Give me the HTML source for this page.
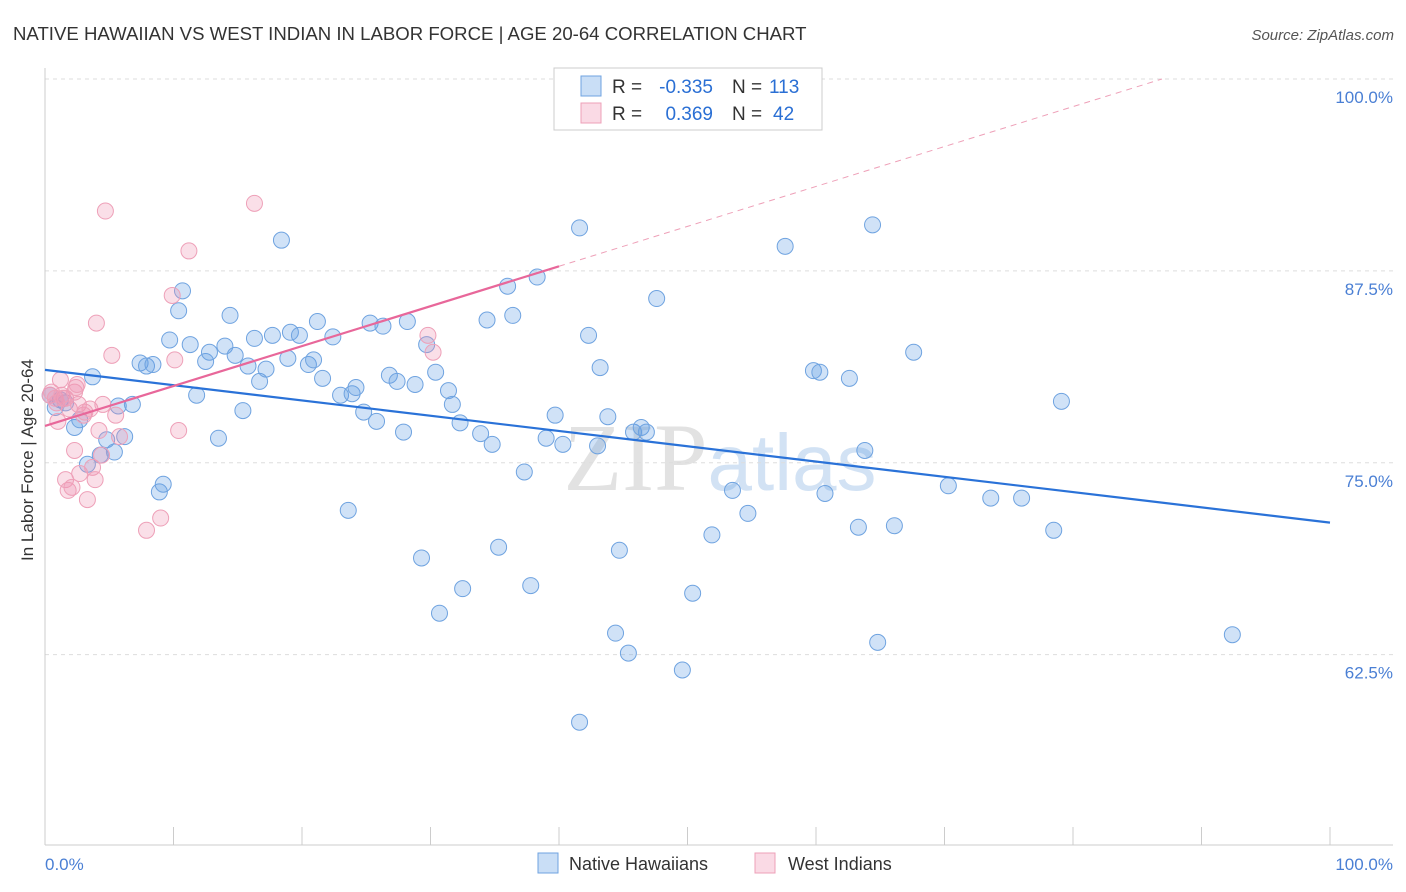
<!DOCTYPE html>
<html><head><meta charset="utf-8">
<style>
body{margin:0;background:#fff;font-family:"Liberation Sans",sans-serif;}
svg{display:block}
</style></head>
<body>
<svg id="chart" width="1406" height="892" xmlns="http://www.w3.org/2000/svg">
<text x="13" y="40" font-size="18.6" fill="#333">NATIVE HAWAIIAN VS WEST INDIAN IN LABOR FORCE | AGE 20-64 CORRELATION CHART</text>
<text x="1394" y="40" font-size="15" fill="#555" font-style="italic" text-anchor="end">Source: ZipAtlas.com</text>
<text x="720" y="490" font-size="96" fill="#e2e2e2" text-anchor="middle" font-family="Liberation Serif,serif">ZIP<tspan fill="#d2e2f4" font-family="Liberation Sans,sans-serif" font-size="80">atlas</tspan></text>
<g id="grid"></g>
<g id="axes"></g>
<g id="pts"></g>
<g id="lines"></g>
<text x="33" y="460" font-size="17" fill="#333" text-anchor="middle" transform="rotate(-90 33 460)">In Labor Force | Age 20-64</text>
<text x="45" y="870" font-size="17" fill="#4a7fd4">0.0%</text>
<text x="1393" y="870" font-size="17" fill="#4a7fd4" text-anchor="end">100.0%</text>
<g font-size="19">
<rect x="554" y="68" width="268" height="62" fill="#fff" stroke="#ccc"/>
<rect x="581" y="76" width="20" height="20" fill="rgba(100,160,230,0.35)" stroke="#6fa3e0"/>
<rect x="581" y="103" width="20" height="20" fill="rgba(240,150,180,0.35)" stroke="#eea0b8"/>
<text x="612" y="93" fill="#333">R =</text>
<text x="713" y="93" fill="#2a6fd4" text-anchor="end">-0.335</text>
<text x="732" y="93" fill="#333">N =</text>
<text x="769" y="93" fill="#2a6fd4">113</text>
<text x="612" y="120" fill="#333">R =</text>
<text x="713" y="120" fill="#2a6fd4" text-anchor="end">0.369</text>
<text x="732" y="120" fill="#333">N =</text>
<text x="773" y="120" fill="#2a6fd4">42</text>
</g>
<g>
<rect x="538" y="853" width="20" height="20" fill="rgba(100,160,230,0.35)" stroke="#6fa3e0"/>
<text x="569" y="870" font-size="18" fill="#333">Native Hawaiians</text>
<rect x="755" y="853" width="20" height="20" fill="rgba(240,150,180,0.35)" stroke="#eea0b8"/>
<text x="788" y="870" font-size="18" fill="#333">West Indians</text>
</g>
</svg>
<script>
const yTicks=[100,87.5,75,62.5];
const yTickLabels=["100.0%","87.5%","75.0%","62.5%"];
const xTicks=[0,10,20,30,40,50,60,70,80,90,100];
const blueX=[0.4,0.8,1.2,1.6,2.3,2.7,3.3,3.7,4.3,4.8,5.4,5.7,6.2,6.8,7.4,7.9,8.4,8.9,9.2,9.7,10.4,10.7,11.3,11.8,12.5,12.8,13.5,14.0,14.4,14.8,15.4,15.8,16.3,16.7,17.2,17.7,18.4,18.9,19.1,19.8,20.5,20.9,21.2,21.6,22.4,23.0,23.6,23.9,24.2,24.8,25.3,25.8,26.3,26.8,27.4,27.9,28.2,28.8,29.3,29.7,30.4,30.7,31.4,31.7,32.3,32.5,33.9,34.4,34.8,35.3,36.0,36.4,37.3,37.8,38.3,39.0,39.7,40.3,41.6,41.6,42.3,43.0,43.2,43.8,44.4,44.7,45.4,45.8,46.4,46.8,47.6,49.6,50.4,51.9,53.5,54.7,57.6,59.8,60.3,60.7,62.6,63.3,63.8,64.4,64.8,66.1,67.6,70.3,73.6,76.0,78.5,79.1,92.4];
const blueY=[79.4,78.6,79.1,78.9,77.3,77.8,74.9,80.6,75.5,76.5,75.7,78.7,76.7,78.8,81.5,81.3,81.4,73.1,73.6,83.0,84.9,86.2,82.7,79.4,81.6,82.2,76.6,82.6,84.6,82.0,78.4,81.3,83.1,80.3,81.1,83.3,89.5,81.8,83.5,83.3,81.4,81.7,84.2,80.5,83.2,79.4,71.9,79.5,79.9,78.3,84.1,77.7,83.9,80.7,80.3,77.0,84.2,80.1,68.8,82.7,80.9,65.2,79.7,78.8,77.6,66.8,76.9,84.3,76.2,69.5,86.5,84.6,74.4,67.0,87.1,76.6,78.1,76.2,90.3,58.1,83.3,76.1,81.2,78.0,63.9,69.3,62.6,77.0,77.3,77.0,85.7,61.5,66.5,70.3,73.2,71.7,89.1,81.0,80.9,73.0,80.5,70.8,75.8,90.5,63.3,70.9,82.2,73.5,72.7,72.7,70.6,79.0,63.8];
const pinkX=[0.4,0.5,0.8,0.9,1.0,1.2,1.3,1.4,1.6,1.6,1.8,1.9,2.1,2.3,2.3,2.4,2.5,2.6,2.7,3.0,3.1,3.3,3.5,3.7,3.9,4.0,4.2,4.4,4.5,4.7,5.2,5.5,5.8,7.9,9.0,9.9,10.1,10.4,11.2,16.3,29.8,30.2];
const pinkY=[79.4,79.6,79.2,78.9,77.7,80.4,79.4,79.2,79.2,73.9,73.2,78.5,73.4,75.8,79.6,79.9,80.1,78.8,74.3,78.1,78.3,72.6,78.5,74.7,73.9,84.1,77.1,75.5,78.8,91.4,82.0,78.1,76.7,70.6,71.4,85.9,81.7,77.1,88.8,91.9,83.3,82.2];
const blueTrend=[81.05,-0.0995];
const pinkTrend=[77.4,0.26];
const X0=45,X1=1330,Ytop=79,Ybot=845,Vtop=100,Vbot=50.1;
const sx=v=>X0+(X1-X0)*v/100;
const sy=v=>Ytop+(Vtop-v)*(Ybot-Ytop)/(Vtop-Vbot);
const NS="http://www.w3.org/2000/svg";
function mk(tag,attrs,parent){const e=document.createElementNS(NS,tag);for(const k in attrs)e.setAttribute(k,attrs[k]);document.getElementById(parent).appendChild(e);return e;}
yTicks.forEach((t,i)=>{
 const l=mk('line',{x1:X0,x2:1393,y1:sy(t),y2:sy(t),stroke:'#ddd','stroke-dasharray':'4,4'},'grid');
 
 
 const tx=mk('text',{x:1393,y:sy(t)+24,'font-size':17,fill:'#4a7fd4','text-anchor':'end'},'grid');
 tx.textContent=yTickLabels[i];
 
 
});
const ya=mk('line',{x1:X0,x2:X0,y1:68,y2:Ybot,stroke:'#ccc'},'axes');


const xa=mk('line',{x1:X0,x2:1393,y1:Ybot,y2:Ybot,stroke:'#ccc'},'axes');


xTicks.forEach(t=>{
 const l=mk('line',{x1:sx(t),x2:sx(t),y1:Ybot,y2:Ybot-18,stroke:'#ccc'},'axes');
 
 
});
blueX.forEach((x,i)=>{
 const c=mk('circle',{cx:sx(x),cy:sy(blueY[i]),r:8,fill:'rgba(100,160,230,0.3)',stroke:'#6fa3e0','stroke-width':1},'pts');
 
 
});
pinkX.forEach((x,i)=>{
 const c=mk('circle',{cx:sx(x),cy:sy(pinkY[i]),r:8,fill:'rgba(240,150,180,0.3)',stroke:'#eea0b8','stroke-width':1},'pts');
 
 
});
const bl=mk('line',{x1:sx(0),y1:sy(blueTrend[0]),x2:sx(100),y2:sy(blueTrend[0]+100*blueTrend[1]),stroke:'#2a72d8','stroke-width':2.2},'lines');


const pl=mk('line',{x1:sx(0),y1:sy(pinkTrend[0]),x2:sx(40),y2:sy(pinkTrend[0]+40*pinkTrend[1]),stroke:'#e8679a','stroke-width':2.2},'lines');


const xe=(100-pinkTrend[0])/pinkTrend[1];
const pd=mk('line',{x1:sx(40),y1:sy(pinkTrend[0]+40*pinkTrend[1]),x2:sx(xe),y2:sy(100),stroke:'#eea0b8','stroke-width':1,'stroke-dasharray':'6,5'},'lines');


</script>
</body></html>
